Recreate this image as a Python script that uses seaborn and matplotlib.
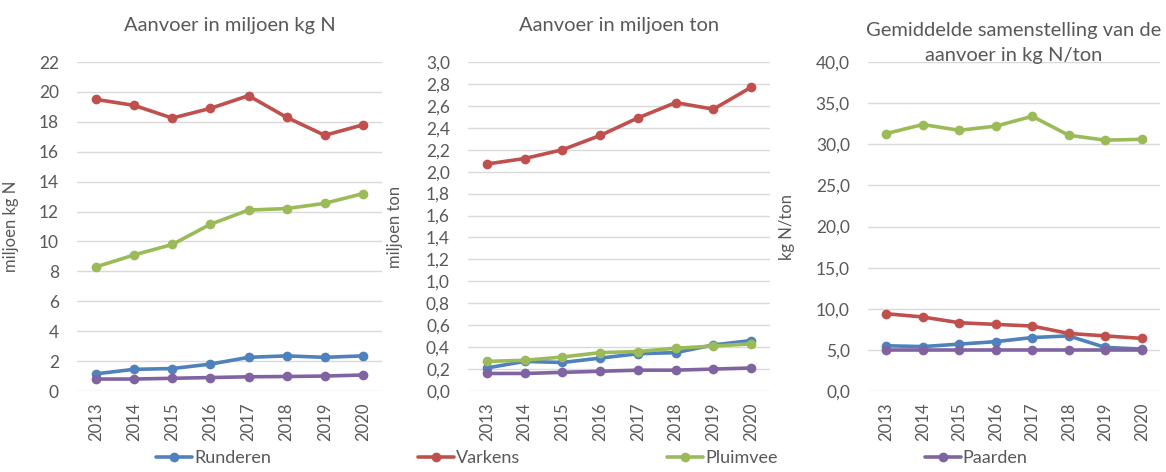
import pandas as pd
import seaborn as sns
import matplotlib
matplotlib.use("Agg")
import matplotlib.pyplot as plt
from matplotlib.ticker import FuncFormatter, MultipleLocator

years = [2013, 2014, 2015, 2016, 2017, 2018, 2019, 2020]
soorten = ["Runderen", "Varkens", "Pluimvee", "Paarden"]
kleuren = ["#4F81BD", "#C0504D", "#9BBB59", "#8064A2"]

# aanvoer in miljoen kg N
kgn_runderen = [1.15, 1.45, 1.5, 1.8, 2.25, 2.35, 2.25, 2.35]
kgn_varkens = [19.5, 19.1, 18.25, 18.9, 19.75, 18.3, 17.1, 17.8]
kgn_pluimvee = [8.3, 9.1, 9.8, 11.15, 12.1, 12.2, 12.55, 13.2]
kgn_paarden = [0.8, 0.8, 0.85, 0.9, 0.95, 0.97, 1.0, 1.07]

# aanvoer in miljoen ton
ton_runderen = [0.21, 0.27, 0.26, 0.30, 0.34, 0.35, 0.42, 0.46]
ton_varkens = [2.07, 2.12, 2.20, 2.33, 2.49, 2.63, 2.57, 2.77]
ton_pluimvee = [0.27, 0.28, 0.31, 0.35, 0.36, 0.39, 0.41, 0.43]
ton_paarden = [0.16, 0.16, 0.17, 0.18, 0.19, 0.19, 0.20, 0.21]

# gemiddelde samenstelling kg N/ton
gem_runderen = [5.5, 5.4, 5.7, 6.0, 6.5, 6.7, 5.3, 5.1]
gem_varkens = [9.4, 9.0, 8.3, 8.1, 7.9, 7.0, 6.7, 6.4]
gem_pluimvee = [31.3, 32.4, 31.7, 32.2, 33.4, 31.1, 30.5, 30.6]
gem_paarden = [5.0, 5.0, 5.0, 5.0, 5.0, 5.0, 5.0, 5.0]


def long_df(series):
    rows = []
    for soort, vals in zip(soorten, series):
        for y, v in zip(years, vals):
            rows.append({"jaar": y, "soort": soort, "waarde": v})
    return pd.DataFrame(rows)


sns.set_style("white")
plt.rcParams["font.family"] = ["Lato", "DejaVu Sans"]
grijs = "#595959"

panels = [
    (long_df([kgn_runderen, kgn_varkens, kgn_pluimvee, kgn_paarden]),
     "Aanvoer in miljoen kg N", "miljoen kg N", 22, 2, 0,
     [0.066, 0.1716, 0.2616, 0.697], -0.19, 22),
    (long_df([ton_runderen, ton_varkens, ton_pluimvee, ton_paarden]),
     "Aanvoer in miljoen ton", "miljoen ton", 3.0, 0.2, 1,
     [0.4014, 0.1716, 0.259, 0.697], -0.215, 22),
    (long_df([gem_runderen, gem_varkens, gem_pluimvee, gem_paarden]),
     "Gemiddelde samenstelling van de\naanvoer in kg N/ton", "kg N/ton", 40, 5, 1,
     [0.7444, 0.1716, 0.2504, 0.697], -0.25, 1),
]

fig = plt.figure(figsize=(11.66, 4.72), dpi=100, facecolor="w")

for df, titel, ylabel, ymax, stap, dec, pos, lx, tpad in panels:
    ax = fig.add_axes(pos)
    sns.lineplot(data=df, x="jaar", y="waarde", hue="soort", hue_order=soorten,
                 palette=kleuren, marker="o", markersize=7, markeredgewidth=0,
                 linewidth=2.6, ax=ax, legend=False, zorder=3)
    ax.set_xlim(2012.5, 2020.5)
    ax.set_ylim(0, ymax)
    ax.set_xticks(years)
    ax.set_xticklabels([str(y) for y in years], rotation=90, fontsize=12, color=grijs)
    ax.yaxis.set_major_locator(MultipleLocator(stap))
    ax.yaxis.set_major_formatter(FuncFormatter(
        lambda v, p, d=dec: f"{v:.{d}f}".replace(".", ",")))
    ax.tick_params(axis="y", labelsize=12.5, colors=grijs, length=0, pad=13)
    ax.tick_params(axis="x", length=0, pad=8)
    ax.grid(axis="y", color="#D9D9D9", linewidth=1)
    for s in ax.spines.values():
        s.set_visible(False)
    ax.set_xlabel("")
    ax.set_ylabel(ylabel, fontsize=12, color=grijs)
    ax.yaxis.set_label_coords(lx, 0.5)
    ax.set_title(titel, fontsize=14.5, color=grijs, pad=tpad, linespacing=1.55)

handles = [plt.Line2D([], [], color=c, marker="o", markersize=7, linewidth=2.6,
                      markeredgewidth=0) for c in kleuren]
fig.legend(handles, soorten, loc="lower left", ncol=4, mode="expand",
           bbox_to_anchor=(0.12, -0.022, 0.775, 0.06), frameon=False,
           fontsize=13, labelcolor=grijs, handlelength=2.0, handletextpad=0.1)

plt.savefig("out.png", dpi=100)
